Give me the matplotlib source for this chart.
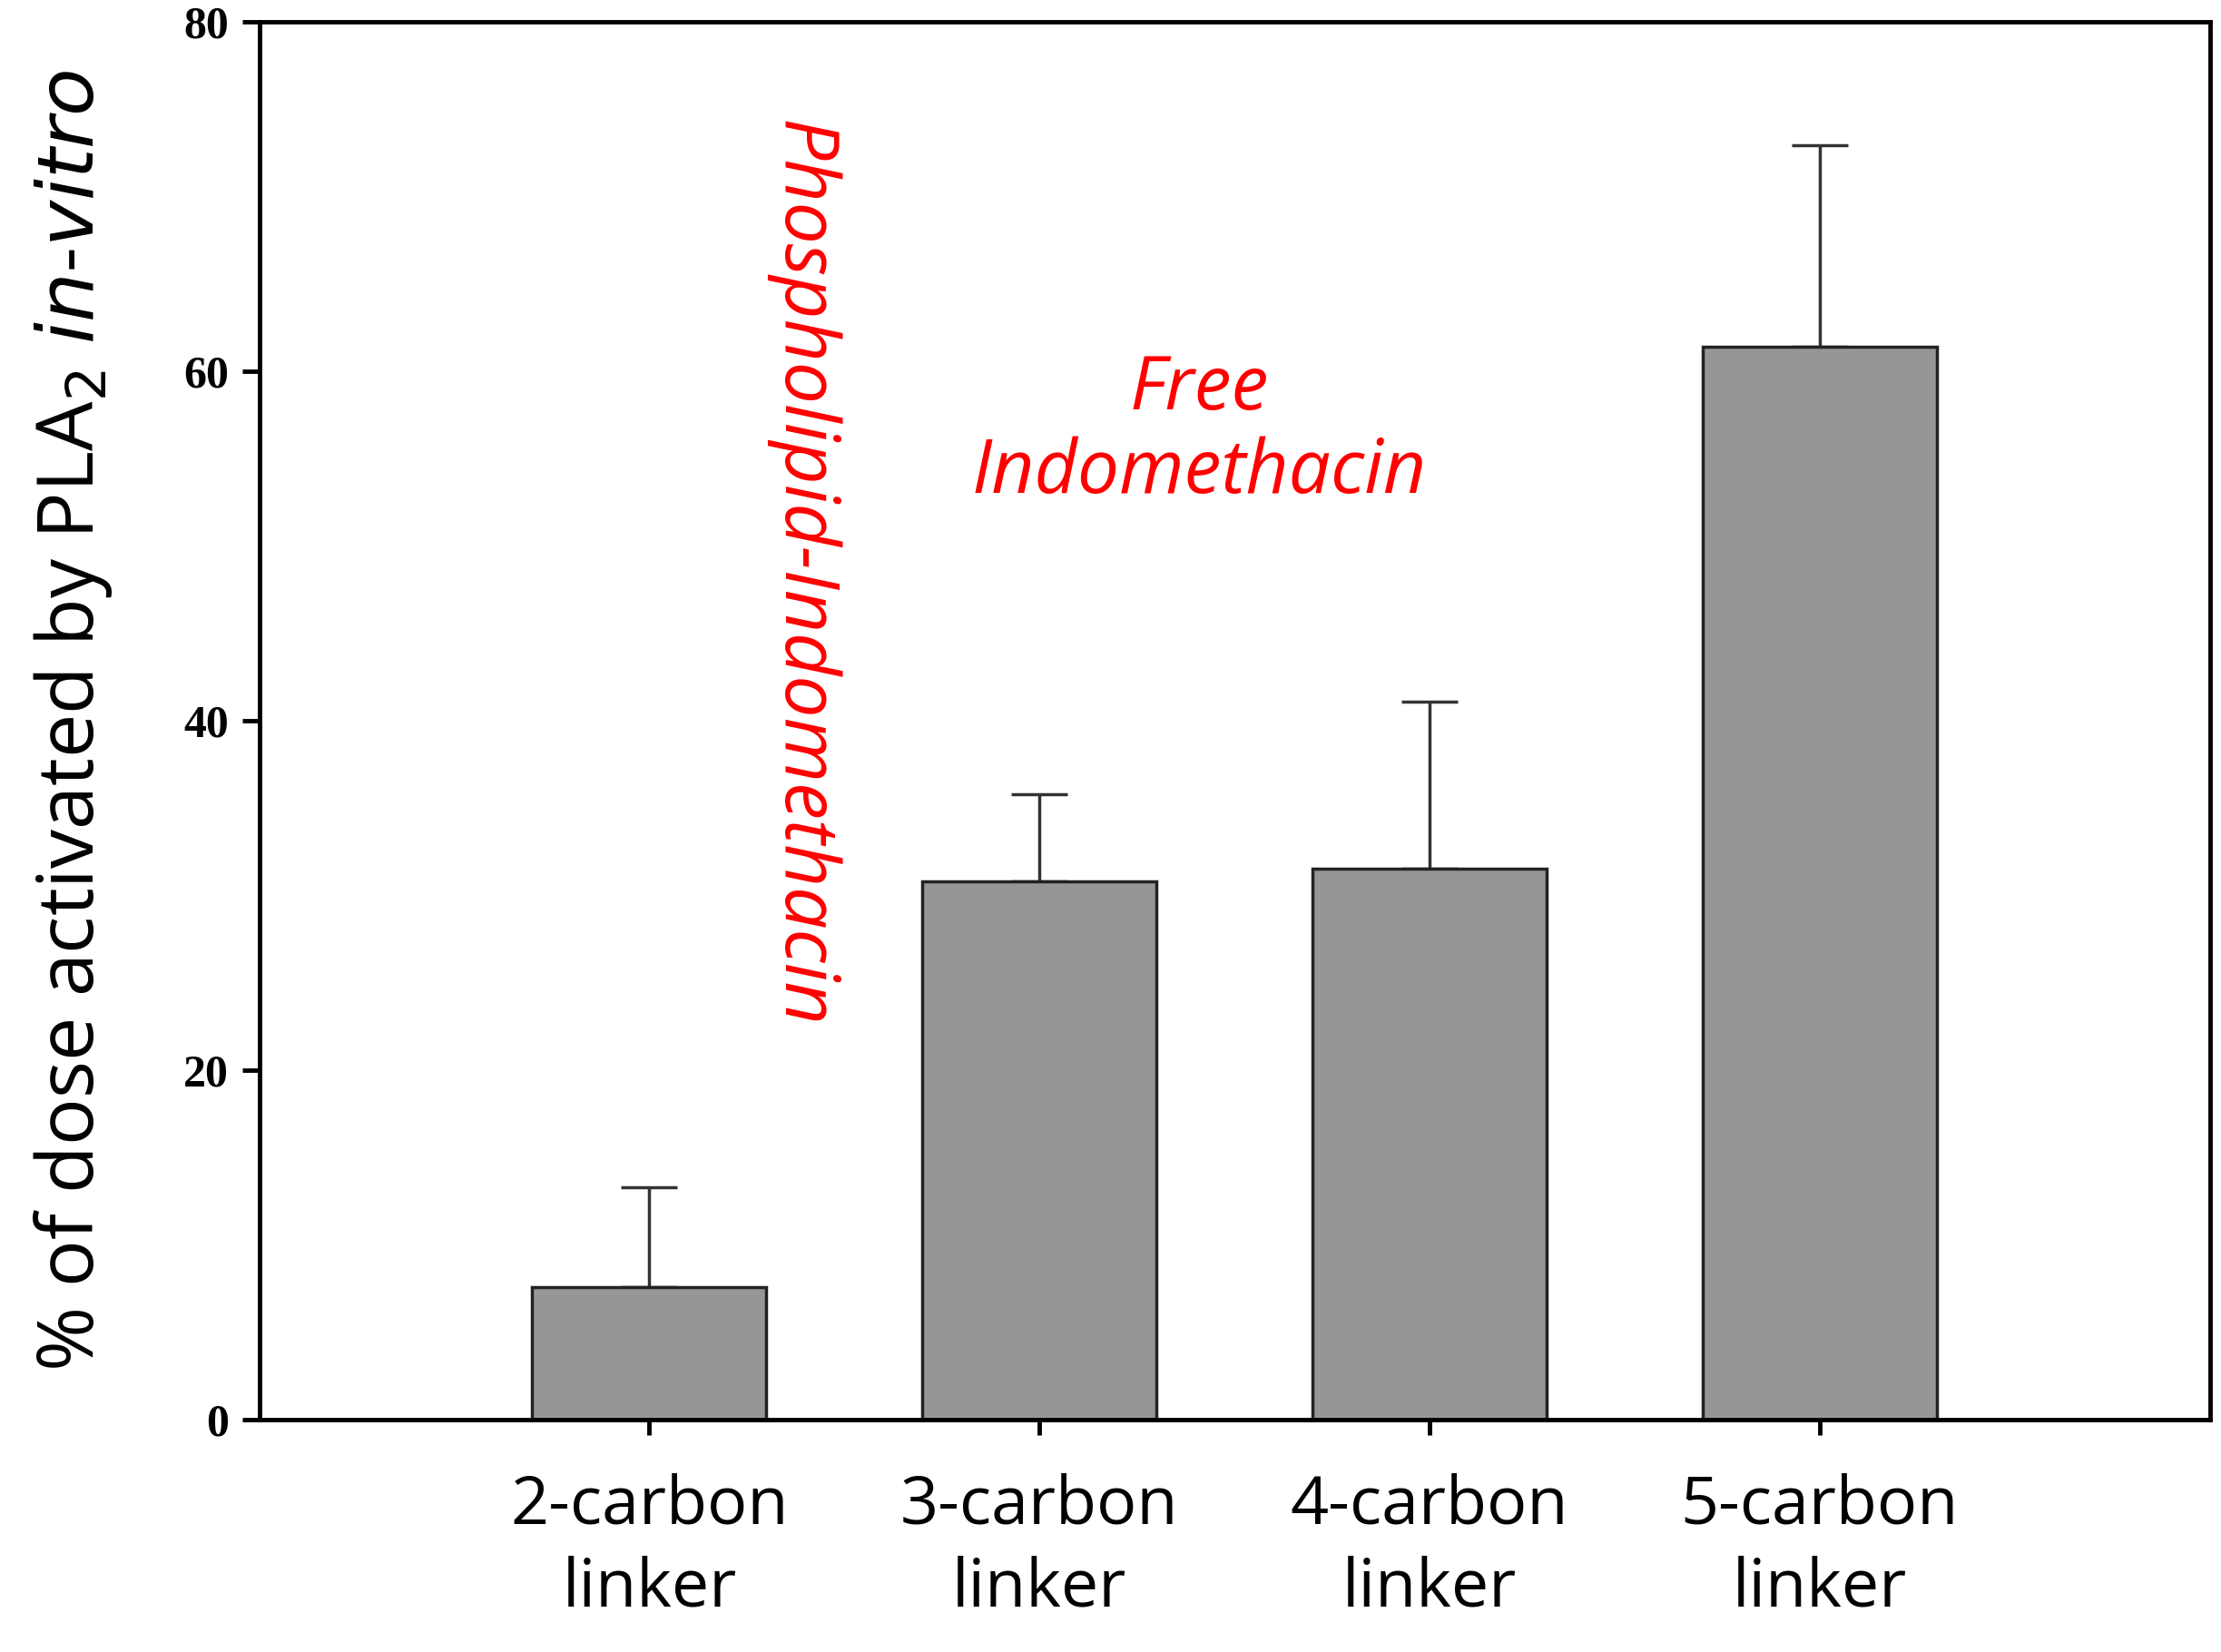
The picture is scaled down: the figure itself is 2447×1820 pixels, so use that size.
import matplotlib
matplotlib.use("Agg")
import matplotlib.pyplot as plt

categories = ["2-carbon\nlinker", "3-carbon\nlinker", "4-carbon\nlinker", "5-carbon\nlinker"]
values = [7.6, 30.8, 31.5, 61.4]
err_upper = [5.7, 5.0, 9.6, 11.5]
yticks = [0, 20, 40, 60, 80]

fig = plt.figure(figsize=(24.47, 18.2), dpi=100)
ax = fig.add_axes([0.1167, 0.1407, 0.8783, 0.8463])
pos = list(range(1, len(values) + 1))
ax.bar(pos, values, width=0.6, color="#969696", edgecolor="#222222", linewidth=2.5, zorder=2)
ax.errorbar(pos, values, yerr=[[0] * len(values), err_upper], fmt="none",
            ecolor="#333333", elinewidth=2.5, capsize=22, capthick=2.5, zorder=1)
ax.set_xlim(0, 5)
ax.set_ylim(0, 80)
ax.set_yticks(yticks)
ax.set_yticklabels([str(t) for t in yticks], fontfamily="Liberation Serif",
                   fontweight="bold", fontsize=36)
ax.set_xticks(pos)
ax.set_xticklabels(categories, fontfamily="Open Sans", fontsize=53, linespacing=1.3)
ax.tick_params(axis="x", direction="inout", length=24, width=3.5, pad=30)
ax.tick_params(axis="y", direction="out", length=14, width=3.5, pad=10)
for s in ax.spines.values():
    s.set_linewidth(3.5)
ax.set_ylabel("% of dose activated by PLA$_2$ $\\it{in}$-$\\it{vitro}$",
              fontfamily="Open Sans", fontsize=62, labelpad=55)
ax.text(2.41, 56.5, "Free\nIndomethacin", color="red", style="italic",
        fontfamily="Open Sans", fontsize=59, ha="center", va="center", linespacing=1.15)
ax.text(1.39, 48.4, "Phospholipid-Indomethacin", color="red", style="italic",
        fontfamily="Open Sans", fontsize=59, ha="center", va="center", rotation=-90)
fig.savefig("out.png", dpi=100)
